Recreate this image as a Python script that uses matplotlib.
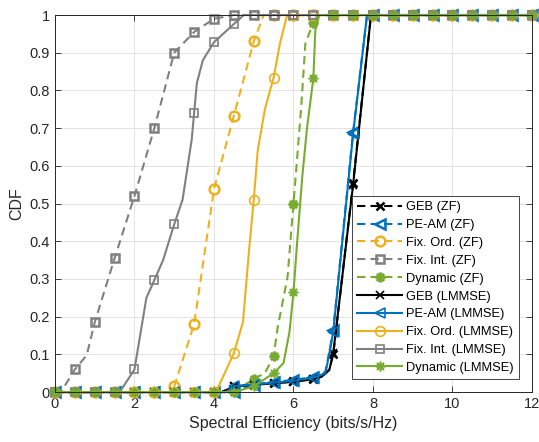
import numpy as np
import matplotlib
matplotlib.use('Agg')
import matplotlib.pyplot as plt

plt.rcParams['font.family'] = ['Liberation Sans', 'DejaVu Sans']

# CDF samples of the spectral efficiency (bits/s/Hz); only the rising part is
# listed, below it the CDF is 0 and above it 1. Markers sit every 0.5.
grid_x = np.arange(0, 12.5, 0.5)

geb_zf_x = [4.2, 4.5, 5.0, 5.5, 6.0, 6.5, 6.7, 6.9, 7.0, 7.5, 7.95]
geb_zf_y = [0.0, 0.016, 0.02, 0.024, 0.028, 0.035, 0.04, 0.06, 0.10, 0.555, 1.0]
peam_zf_x = [4.5, 5.0, 5.5, 6.0, 6.5, 6.8, 6.92, 7.0, 7.5, 7.85]
peam_zf_y = [0.0, 0.02, 0.027, 0.032, 0.04, 0.053, 0.117, 0.165, 0.69, 1.0]
ford_zf_x = [2.9, 3.0, 3.5, 4.0, 4.5, 5.0, 5.25]
ford_zf_y = [0.0, 0.015, 0.18, 0.538, 0.733, 0.93, 1.0]
fint_zf_x = [0.0, 0.15, 0.5, 0.8, 1.0, 1.5, 2.0, 2.5, 3.0, 3.5, 4.0, 4.5]
fint_zf_y = [0.0, 0.0, 0.06, 0.098, 0.185, 0.355, 0.52, 0.70, 0.90, 0.955, 0.99, 1.0]
dyn_zf_x = [4.5, 5.0, 5.28, 5.5, 5.6, 5.85, 6.0, 6.19, 6.3, 6.5, 6.6]
dyn_zf_y = [0.0, 0.035, 0.05, 0.095, 0.17, 0.305, 0.5, 0.75, 0.925, 0.98, 1.0]

geb_mmse_x = [4.2, 4.5, 5.0, 5.5, 6.0, 6.5, 6.7, 6.9, 7.0, 7.5, 7.95]
geb_mmse_y = [0.0, 0.015, 0.019, 0.023, 0.027, 0.034, 0.04, 0.058, 0.103, 0.55, 1.0]
peam_mmse_x = [4.3, 4.5, 5.0, 5.5, 6.0, 6.5, 6.8, 6.92, 7.0, 7.5, 7.85]
peam_mmse_y = [0.0, 0.016, 0.02, 0.025, 0.03, 0.038, 0.05, 0.11, 0.16, 0.685, 1.0]
ford_mmse_x = [4.05, 4.5, 4.73, 4.86, 5.0, 5.1, 5.28, 5.5, 5.66, 5.84]
ford_mmse_y = [0.0, 0.103, 0.186, 0.35, 0.51, 0.64, 0.75, 0.834, 0.925, 1.0]
fint_mmse_x = [1.63, 2.0, 2.3, 2.5, 2.72, 3.0, 3.21, 3.44, 3.5, 3.57, 3.72, 4.0, 4.5, 4.75]
fint_mmse_y = [0.0, 0.06, 0.25, 0.297, 0.35, 0.445, 0.51, 0.67, 0.74, 0.82, 0.88, 0.928, 0.976, 1.0]
dyn_mmse_x = [4.5, 5.0, 5.5, 5.75, 5.9, 6.0, 6.09, 6.22, 6.34, 6.5, 6.55, 6.65]
dyn_mmse_y = [0.0, 0.015, 0.05, 0.077, 0.16, 0.265, 0.395, 0.57, 0.70, 0.833, 0.96, 1.0]

yticks = [0, 0.1, 0.2, 0.3, 0.4, 0.5, 0.6, 0.7, 0.8, 0.9, 1]
ytick_labels = ['0', '0.1', '0.2', '0.3', '0.4', '0.5', '0.6', '0.7', '0.8', '0.9', '1']
xticks = [0, 2, 4, 6, 8, 10, 12]

c_black = 'k'
c_blue = '#0072BD'
c_orange = '#EDB120'
c_gray = '#808080'
c_green = '#77AC30'
asterisk = (8, 2, 0)


def full_cdf(xs, ys):
    lo = [g for g in grid_x if g < xs[0]]
    hi = [g for g in grid_x if g > xs[-1]]
    x = np.r_[lo, xs, hi]
    y = np.r_[np.zeros(len(lo)), ys, np.ones(len(hi))]
    marks = [i for i, v in enumerate(x) if abs(v * 2 - round(v * 2)) < 1e-9]
    return x, y, marks


series = [
    (geb_zf_x, geb_zf_y, c_black, 'x', 6, 'GEB (ZF)', True),
    (peam_zf_x, peam_zf_y, c_blue, '<', 7, 'PE-AM (ZF)', True),
    (ford_zf_x, ford_zf_y, c_orange, 'o', 7, 'Fix. Ord. (ZF)', True),
    (fint_zf_x, fint_zf_y, c_gray, 's', 5.5, 'Fix. Int. (ZF)', True),
    (dyn_zf_x, dyn_zf_y, c_green, asterisk, 7, 'Dynamic (ZF)', True),
    (geb_mmse_x, geb_mmse_y, c_black, 'x', 6, 'GEB (LMMSE)', False),
    (peam_mmse_x, peam_mmse_y, c_blue, '<', 7, 'PE-AM (LMMSE)', False),
    (ford_mmse_x, ford_mmse_y, c_orange, 'o', 7, 'Fix. Ord. (LMMSE)', False),
    (fint_mmse_x, fint_mmse_y, c_gray, 's', 5.5, 'Fix. Int. (LMMSE)', False),
    (dyn_mmse_x, dyn_mmse_y, c_green, asterisk, 7, 'Dynamic (LMMSE)', False),
]

fig = plt.figure(figsize=(5.39, 4.42), dpi=100)
ax = fig.add_axes([0.102, 0.113, 0.885, 0.853])

for xs, ys, col, mk, ms, lab, zf in series:
    x, y, marks = full_cdf(xs, ys)
    ax.plot(x, y, color=col, lw=1.5, ls=(0, (4, 2.5)) if zf else '-',
            marker=mk, markevery=marks, ms=ms, mfc='none', mec=col,
            mew=1.8 if zf else 1.2, label=lab, clip_on=False)

ax.set_xlim(0, 12)
ax.set_ylim(0, 1)
ax.set_xticks(xticks)
ax.set_yticks(yticks)
ax.set_yticklabels(ytick_labels)
ax.tick_params(direction='in', top=True, right=True, length=4, width=0.6,
               labelsize=10.5, colors='#262626')
ax.grid(True, color='#e3e3e3', lw=0.7)
ax.set_axisbelow(True)
for s in ax.spines.values():
    s.set_color('#262626')
    s.set_linewidth(0.7)
ax.set_xlabel('Spectral Efficiency (bits/s/Hz)', fontsize=11.5, color='#262626')
ax.set_ylabel('CDF', fontsize=11.5, color='#262626')

leg = ax.legend(loc='lower right', fontsize=9.3, labelspacing=0.45,
                handlelength=3.5, handletextpad=0.3, borderaxespad=1.0,
                borderpad=0.4, fancybox=False, framealpha=1, edgecolor='#262626')
leg.get_frame().set_linewidth(0.6)
leg.set_zorder(5)

fig.savefig('out.png', dpi=100)
